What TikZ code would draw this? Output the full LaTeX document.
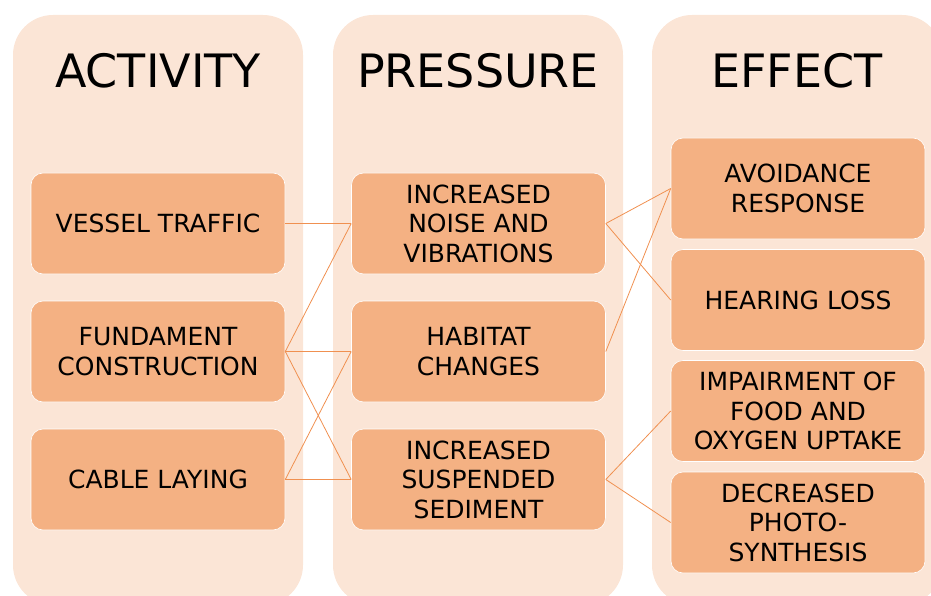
\documentclass[tikz,border=0pt]{standalone}
\usepackage{fontspec}
\setmainfont{DejaVu Sans}
\definecolor{colbg}{HTML}{FBE5D6}
\definecolor{boxfill}{HTML}{F4B183}
\definecolor{edgecol}{HTML}{F09050}
\begin{document}
\begin{tikzpicture}[x=1pt,y=-1pt]
\tikzstyle{col}=[fill=colbg,rounded corners=40pt]
\tikzstyle{hd}=[font=\fontsize{46}{55}\selectfont,anchor=base]
\tikzstyle{bx}=[draw=white,fill=boxfill,line width=.6pt,rounded corners=12pt,minimum width=254pt,minimum height=101pt,inner sep=0pt,align=center,font=\fontsize{25}{29.5}\selectfont]
\tikzstyle{ed}=[draw=edgecol,line width=.8pt]
\useasboundingbox (0,0) rectangle (931,596);
\fill [col] (13,15) rectangle (303,605);
\fill [col] (333,15) rectangle (623,605);
\fill [col] (652,15) rectangle (942,605);
\node [hd] (act) at (158,88) {ACTIVITY};
\node [hd] (pre) at (478,88) {PRESSURE};
\node [hd] (eff) at (797,88) {EFFECT};
\node [bx] (ves) at (158,223.5) {VESSEL TRAFFIC};
\node [bx] (fun) at (158,351.5) {FUNDAMENT\\CONSTRUCTION};
\node [bx] (cab) at (158,479.5) {CABLE LAYING};
\node [bx] (noi) at (478.5,223.5) {INCREASED\\NOISE AND\\VIBRATIONS};
\node [bx] (hab) at (478.5,351.5) {HABITAT\\CHANGES};
\node [bx] (sed) at (478.5,479.5) {INCREASED\\SUSPENDED\\SEDIMENT};
\node [bx] (avo) at (798,188.5) {AVOIDANCE\\RESPONSE};
\node [bx] (hea) at (798,300) {HEARING LOSS};
\node [bx] (imp) at (798,411) {IMPAIRMENT OF\\FOOD AND\\OXYGEN UPTAKE};
\node [bx] (dec) at (798,522.5) {DECREASED\\PHOTO-\\SYNTHESIS};
\draw [ed] (ves.east) -- (noi.west);
\draw [ed] (fun.east) -- (noi.west);
\draw [ed] (fun.east) -- (hab.west);
\draw [ed] (fun.east) -- (sed.west);
\draw [ed] (cab.east) -- (hab.west);
\draw [ed] (cab.east) -- (sed.west);
\draw [ed] (noi.east) -- (avo.west);
\draw [ed] (noi.east) -- (hea.west);
\draw [ed] (hab.east) -- (avo.west);
\draw [ed] (sed.east) -- (imp.west);
\draw [ed] (sed.east) -- (dec.west);
\end{tikzpicture}
\end{document}
